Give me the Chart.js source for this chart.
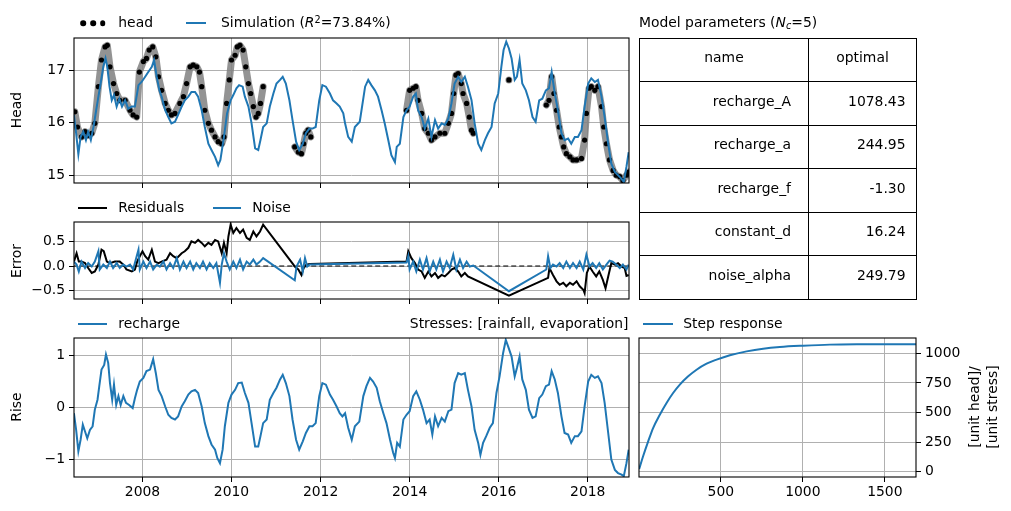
<!DOCTYPE html>
<html><head><meta charset="utf-8">
<script src="https://cdn.jsdelivr.net/npm/chart.js@4/dist/chart.umd.min.js"></script>
<style>
html,body{margin:0;padding:0;background:#fff;}
body{width:1011px;height:511px;position:relative;overflow:hidden;font-family:'DejaVu Sans',sans-serif;font-size:13.9px;color:#000;}
canvas{position:absolute;left:0;top:0;}
.t{position:absolute;white-space:nowrap;line-height:1;}
.vl{position:absolute;white-space:nowrap;line-height:1;transform:translate(-50%,-50%) rotate(-90deg);}
.dot{position:absolute;width:5.6px;height:5.6px;border-radius:50%;background:#000;transform:translate(-50%,-50%);}
.ln{position:absolute;height:2px;}
.cell{position:absolute;box-sizing:border-box;border:1px solid #000;display:flex;align-items:center;line-height:1;padding-bottom:4px;}
sup{font-size:70%;vertical-align:0.45em;line-height:0;}
sub{font-size:70%;vertical-align:-0.2em;line-height:0;}
</style>
</head><body>
<script>
// ---------------- DATA ----------------
const yearTicks = [2008, 2010, 2012, 2014, 2016, 2018];
const headTicks = [15, 16, 17];
const errorTicks = [-0.5, 0, 0.5];
const riseTicks = [-1, 0, 1];
const stepXTicks = [500, 1000, 1500];
const stepYTicks = [0, 250, 500, 750, 1000];

const headObs = [
[2006.48,16.21],[2006.54,15.92],[2006.63,15.73],[2006.71,15.83],[2006.78,15.76],[2006.86,15.80],[2006.93,15.99],
[2007.01,16.69],[2007.08,17.20],[2007.16,17.45],[2007.21,17.48],[2007.27,17.07],[2007.35,16.75],[2007.42,16.56],
[2007.49,16.43],[2007.61,16.43],[2007.72,16.24],[2007.79,16.15],[2007.87,16.11],[2007.93,16.97],[2008.02,17.17],
[2008.09,17.23],[2008.15,17.39],[2008.23,17.45],[2008.30,17.26],[2008.36,16.88],[2008.43,16.62],[2008.51,16.37],
[2008.58,16.24],[2008.65,16.15],[2008.73,16.18],[2008.84,16.37],[2008.92,16.50],[2008.99,16.75],[2009.07,17.07],
[2009.14,17.10],[2009.22,17.07],[2009.28,16.97],[2009.33,16.69],[2009.40,16.24],[2009.48,15.99],[2009.55,15.86],
[2009.63,15.73],[2009.70,15.64],[2009.78,15.60],[2009.83,15.73],[2009.89,16.37],[2009.95,16.82],[2010.00,17.20],
[2010.08,17.29],[2010.13,17.45],[2010.19,17.48],[2010.26,17.39],[2010.32,17.07],[2010.38,16.75],[2010.43,16.56],
[2010.49,16.31],[2010.55,16.11],[2010.60,16.18],[2010.65,16.37],[2010.71,16.69],[2010.75,null],
[2011.42,15.54],[2011.50,15.44],[2011.57,15.41],[2011.62,15.60],[2011.67,15.80],[2011.72,15.86],[2011.78,15.73],[2011.80,null],
[2013.93,16.24],[2014.00,16.62],[2014.08,16.66],[2014.14,16.69],[2014.19,16.43],[2014.27,16.18],[2014.34,15.89],
[2014.42,15.80],[2014.49,15.67],[2014.57,15.73],[2014.68,15.80],[2014.79,15.80],[2014.87,15.99],[2014.94,16.18],
[2014.99,16.56],[2015.04,16.91],[2015.09,16.94],[2015.16,16.75],[2015.20,16.56],[2015.28,16.37],[2015.34,16.11],
[2015.39,15.86],[2015.43,15.80],[2015.45,null],
[2016.23,16.82],[2016.25,null],
[2017.07,16.34],[2017.13,16.43],[2017.19,16.88],[2017.24,16.56],[2017.30,16.24],[2017.36,15.92],[2017.41,15.73],
[2017.46,15.54],[2017.52,15.41],[2017.60,15.35],[2017.67,15.29],[2017.75,15.29],[2017.86,15.32],[2017.93,15.67],
[2017.97,16.18],[2018.03,16.66],[2018.08,16.69],[2018.16,16.62],[2018.23,16.69],[2018.31,16.31],[2018.36,15.92],
[2018.42,15.60],[2018.49,15.29],[2018.57,15.09],[2018.64,15.00],[2018.72,14.97],[2018.79,14.90],[2018.87,15.00],[2018.92,15.06]
];

const simulation = [
[2006.46,16.15],[2006.51,15.80],[2006.56,15.40],[2006.61,15.73],[2006.67,15.83],[2006.73,15.67],[2006.78,15.83],
[2006.84,15.67],[2006.90,15.92],[2006.96,16.24],[2007.01,16.50],[2007.06,16.75],[2007.12,17.07],[2007.17,17.23],
[2007.21,17.07],[2007.26,16.69],[2007.31,16.43],[2007.36,16.53],[2007.42,16.31],[2007.48,16.46],[2007.54,16.31],
[2007.61,16.43],[2007.68,16.27],[2007.76,16.31],[2007.83,16.31],[2007.91,16.72],[2007.98,16.78],[2008.06,16.88],
[2008.13,16.97],[2008.21,17.07],[2008.26,17.20],[2008.32,16.88],[2008.38,16.62],[2008.43,16.50],[2008.51,16.24],
[2008.58,16.11],[2008.65,15.99],[2008.73,16.02],[2008.80,16.15],[2008.88,16.31],[2008.95,16.43],[2009.03,16.50],
[2009.10,16.59],[2009.18,16.59],[2009.25,16.50],[2009.33,16.24],[2009.40,15.92],[2009.48,15.60],[2009.55,15.48],
[2009.63,15.35],[2009.70,15.19],[2009.75,15.29],[2009.83,15.73],[2009.90,16.18],[2009.98,16.43],[2010.04,16.53],
[2010.11,16.66],[2010.17,16.72],[2010.25,16.69],[2010.30,16.50],[2010.38,16.31],[2010.45,15.99],[2010.53,15.51],
[2010.60,15.48],[2010.65,15.67],[2010.71,15.92],[2010.79,15.99],[2010.86,16.31],[2010.94,16.56],[2011.01,16.75],
[2011.09,16.82],[2011.15,16.88],[2011.22,16.75],[2011.30,16.43],[2011.37,16.05],[2011.45,15.64],[2011.52,15.48],
[2011.60,15.60],[2011.67,15.80],[2011.75,15.89],[2011.82,15.89],[2011.89,15.92],[2011.97,16.43],[2012.04,16.72],
[2012.12,16.69],[2012.21,16.56],[2012.28,16.43],[2012.36,16.37],[2012.43,16.31],[2012.51,16.18],[2012.55,15.99],
[2012.62,15.73],[2012.70,15.64],[2012.77,15.92],[2012.88,16.02],[2013.00,16.69],[2013.07,16.82],[2013.14,16.72],
[2013.22,16.62],[2013.29,16.50],[2013.37,16.24],[2013.44,15.99],[2013.52,15.67],[2013.59,15.38],[2013.67,15.25],
[2013.71,15.54],[2013.78,15.60],[2013.86,16.11],[2013.93,16.24],[2014.00,16.31],[2014.08,16.50],[2014.14,16.56],
[2014.19,16.24],[2014.27,16.11],[2014.34,15.89],[2014.42,16.08],[2014.49,15.73],[2014.57,16.05],[2014.64,15.89],
[2014.72,15.99],[2014.79,15.96],[2014.87,16.08],[2014.94,16.37],[2015.01,16.75],[2015.09,16.88],[2015.16,16.78],
[2015.24,16.88],[2015.31,16.69],[2015.39,16.43],[2015.46,15.99],[2015.54,15.60],[2015.61,15.48],[2015.69,15.67],
[2015.76,15.80],[2015.84,15.92],[2015.91,16.37],[2015.99,16.56],[2016.06,17.07],[2016.11,17.39],[2016.17,17.55],
[2016.23,17.42],[2016.29,17.23],[2016.36,16.82],[2016.41,16.88],[2016.47,17.20],[2016.53,16.75],[2016.61,16.62],
[2016.68,16.43],[2016.76,16.11],[2016.83,16.02],[2016.91,16.43],[2016.98,16.46],[2017.06,16.62],[2017.13,16.66],
[2017.19,16.97],[2017.26,16.56],[2017.33,16.24],[2017.41,15.80],[2017.48,15.67],[2017.56,15.70],[2017.63,15.60],
[2017.71,15.73],[2017.78,15.73],[2017.86,15.86],[2017.93,16.31],[2018.01,16.75],[2018.08,16.85],[2018.16,16.78],
[2018.23,16.82],[2018.31,16.50],[2018.38,16.11],[2018.46,15.60],[2018.53,15.22],[2018.61,15.06],[2018.68,15.00],
[2018.76,14.93],[2018.81,14.87],[2018.87,15.16],[2018.92,15.44]
];

const residuals = [
[2006.46,0.09],[2006.52,0.26],[2006.57,0.09],[2006.63,0.09],[2006.71,0.06],[2006.78,-0.04],[2006.86,-0.14],
[2006.93,-0.11],[2007.01,0.03],[2007.08,0.33],[2007.13,0.30],[2007.20,0.09],[2007.27,0.06],[2007.38,0.09],
[2007.49,0.09],[2007.57,0.03],[2007.64,-0.07],[2007.76,-0.11],[2007.83,-0.07],[2007.88,0.09],[2007.94,0.20],
[2008.00,0.30],[2008.06,0.20],[2008.13,0.13],[2008.21,0.33],[2008.28,0.09],[2008.36,0.06],[2008.43,0.09],
[2008.54,0.13],[2008.62,0.26],[2008.69,0.20],[2008.77,0.16],[2008.88,0.26],[2008.95,0.30],[2009.03,0.37],
[2009.10,0.50],[2009.18,0.47],[2009.25,0.53],[2009.33,0.47],[2009.40,0.40],[2009.48,0.47],[2009.55,0.43],
[2009.63,0.53],[2009.70,0.50],[2009.78,0.26],[2009.83,0.47],[2009.89,0.26],[2009.93,0.60],[2009.98,0.84],
[2010.04,0.67],[2010.11,0.77],[2010.19,0.67],[2010.26,0.74],[2010.34,0.57],[2010.41,0.53],[2010.49,0.70],
[2010.56,0.60],[2010.64,0.70],[2010.71,0.84],[2011.39,0.03],[2011.42,-0.01],[2011.50,-0.07],[2011.57,-0.18],
[2011.62,-0.04],[2011.68,0.03],[2011.76,0.04],[2013.93,0.09],[2013.97,0.30],[2014.04,0.16],[2014.12,0.06],
[2014.19,-0.07],[2014.27,-0.11],[2014.34,-0.24],[2014.42,-0.11],[2014.49,-0.21],[2014.57,-0.14],[2014.64,-0.24],
[2014.72,-0.18],[2014.79,-0.21],[2014.87,-0.14],[2014.94,-0.07],[2015.01,-0.04],[2015.09,-0.11],[2015.16,-0.21],
[2015.24,-0.14],[2015.31,-0.21],[2016.23,-0.60],[2017.11,-0.24],[2017.14,-0.04],[2017.22,-0.18],[2017.30,-0.31],
[2017.37,-0.38],[2017.45,-0.34],[2017.52,-0.41],[2017.60,-0.34],[2017.67,-0.38],[2017.75,-0.31],[2017.82,-0.41],
[2017.90,-0.48],[2017.93,-0.55],[2017.98,-0.14],[2018.04,-0.01],[2018.11,-0.11],[2018.19,-0.21],[2018.26,-0.11],
[2018.34,-0.28],[2018.40,-0.45],[2018.46,-0.21],[2018.53,0.06],[2018.61,0.03],[2018.68,0.06],[2018.76,-0.01],
[2018.83,-0.04],[2018.87,-0.20],[2018.92,-0.18]
];

const noise = [
[2006.46,0.09],[2006.52,0.03],[2006.57,-0.11],[2006.63,0.09],[2006.71,-0.04],[2006.78,0.06],[2006.86,-0.01],
[2006.93,0.09],[2007.01,0.30],[2007.04,-0.07],[2007.12,0.03],[2007.20,-0.04],[2007.27,0.09],[2007.34,-0.04],
[2007.42,0.06],[2007.49,-0.04],[2007.57,0.03],[2007.64,-0.01],[2007.72,0.03],[2007.79,-0.07],[2007.87,0.20],
[2007.91,0.33],[2007.94,-0.07],[2008.02,0.09],[2008.09,-0.04],[2008.17,0.09],[2008.24,-0.07],[2008.32,0.03],
[2008.39,-0.01],[2008.47,0.09],[2008.54,-0.07],[2008.62,0.06],[2008.69,-0.04],[2008.77,0.16],[2008.84,-0.07],
[2008.92,0.09],[2008.99,-0.04],[2009.07,0.09],[2009.14,-0.07],[2009.21,0.06],[2009.29,-0.04],[2009.36,0.09],
[2009.44,-0.07],[2009.51,0.06],[2009.59,-0.04],[2009.66,0.06],[2009.74,-0.34],[2009.78,0.03],[2009.83,0.26],
[2009.89,0.09],[2009.96,-0.07],[2010.04,0.09],[2010.11,-0.04],[2010.19,0.13],[2010.26,-0.07],[2010.34,0.09],
[2010.41,0.03],[2010.49,0.13],[2010.56,0.03],[2010.64,0.09],[2010.71,0.16],[2011.42,-0.29],[2011.46,-0.01],
[2011.54,0.13],[2011.60,-0.11],[2011.65,0.16],[2011.70,-0.01],[2011.76,0.03],[2013.93,0.07],[2013.97,0.20],
[2014.00,-0.07],[2014.08,0.09],[2014.15,-0.11],[2014.23,0.13],[2014.30,-0.07],[2014.38,0.16],[2014.45,-0.11],
[2014.53,0.09],[2014.60,-0.07],[2014.68,0.13],[2014.75,-0.11],[2014.83,0.09],[2014.90,-0.04],[2014.98,0.23],
[2015.05,-0.07],[2015.13,0.13],[2015.20,-0.04],[2015.28,0.09],[2015.35,-0.01],[2015.43,0.01],[2016.23,-0.51],
[2017.07,-0.07],[2017.11,0.20],[2017.16,-0.04],[2017.22,0.03],[2017.30,-0.01],[2017.37,0.06],[2017.45,-0.04],
[2017.52,0.09],[2017.60,-0.04],[2017.67,0.06],[2017.75,-0.04],[2017.82,0.09],[2017.90,-0.07],[2017.97,0.23],
[2018.04,-0.01],[2018.11,0.06],[2018.19,-0.04],[2018.26,0.06],[2018.34,-0.07],[2018.42,0.03],[2018.49,0.11],
[2018.56,0.09],[2018.64,0.03],[2018.72,-0.04],[2018.79,0.03],[2018.87,-0.07],[2018.92,0.03]
];

const zeroLine = [[2006.40,0],[2019.00,0]];

const recharge = [
[2006.46,-0.12],[2006.51,-0.44],[2006.56,-0.85],[2006.61,-0.63],[2006.66,-0.34],[2006.71,-0.47],[2006.76,-0.60],
[2006.82,-0.44],[2006.88,-0.37],[2006.93,-0.05],[2006.99,0.14],[2007.03,0.40],[2007.08,0.72],[2007.14,0.81],
[2007.18,1.01],[2007.23,0.85],[2007.27,0.46],[2007.32,0.14],[2007.36,0.43],[2007.41,0.04],[2007.46,0.21],
[2007.51,0.04],[2007.57,0.21],[2007.63,0.08],[2007.70,0.04],[2007.78,-0.02],[2007.83,0.17],[2007.88,0.33],
[2007.94,0.49],[2008.02,0.56],[2008.09,0.69],[2008.17,0.72],[2008.24,0.92],[2008.30,0.65],[2008.36,0.33],
[2008.43,0.21],[2008.51,0.01],[2008.58,-0.15],[2008.65,-0.21],[2008.73,-0.24],[2008.80,-0.18],[2008.88,0.01],
[2008.95,0.11],[2009.03,0.24],[2009.10,0.30],[2009.18,0.33],[2009.25,0.27],[2009.33,0.01],[2009.40,-0.31],
[2009.48,-0.56],[2009.55,-0.72],[2009.63,-0.82],[2009.68,-0.98],[2009.74,-1.08],[2009.80,-0.82],[2009.85,-0.37],
[2009.93,0.08],[2010.00,0.24],[2010.08,0.33],[2010.15,0.46],[2010.23,0.47],[2010.30,0.27],[2010.38,0.08],
[2010.45,-0.31],[2010.53,-0.76],[2010.60,-0.76],[2010.65,-0.56],[2010.71,-0.31],[2010.79,-0.24],[2010.86,0.14],
[2010.94,0.27],[2011.01,0.37],[2011.09,0.53],[2011.15,0.62],[2011.22,0.46],[2011.30,0.21],[2011.37,-0.24],
[2011.45,-0.63],[2011.52,-0.82],[2011.60,-0.66],[2011.67,-0.50],[2011.75,-0.37],[2011.82,-0.37],[2011.89,-0.31],
[2011.97,0.21],[2012.04,0.46],[2012.12,0.43],[2012.21,0.24],[2012.28,0.14],[2012.36,0.01],[2012.43,-0.12],
[2012.49,-0.18],[2012.55,-0.12],[2012.62,-0.40],[2012.70,-0.63],[2012.77,-0.37],[2012.87,-0.28],[2012.96,0.21],
[2013.03,0.40],[2013.11,0.56],[2013.18,0.49],[2013.26,0.37],[2013.33,0.11],[2013.41,-0.12],[2013.48,-0.31],
[2013.56,-0.63],[2013.63,-0.88],[2013.67,-0.98],[2013.72,-0.69],[2013.78,-0.76],[2013.86,-0.24],[2013.93,-0.15],
[2014.00,-0.08],[2014.08,0.21],[2014.15,0.30],[2014.23,0.14],[2014.30,-0.05],[2014.38,-0.31],[2014.45,-0.24],
[2014.51,-0.53],[2014.57,-0.18],[2014.64,-0.37],[2014.72,-0.21],[2014.79,-0.28],[2014.87,-0.08],[2014.94,-0.05],
[2015.01,0.46],[2015.09,0.65],[2015.16,0.62],[2015.24,0.65],[2015.31,0.33],[2015.39,0.01],[2015.46,-0.44],
[2015.54,-0.69],[2015.59,-0.92],[2015.65,-0.69],[2015.72,-0.56],[2015.80,-0.40],[2015.87,-0.31],[2015.95,0.27],
[2016.02,0.59],[2016.10,1.04],[2016.16,1.29],[2016.21,1.17],[2016.29,0.97],[2016.36,0.59],[2016.41,0.75],
[2016.47,0.97],[2016.53,0.53],[2016.61,0.33],[2016.68,-0.05],[2016.76,-0.21],[2016.83,-0.18],[2016.91,0.17],
[2016.98,0.24],[2017.06,0.40],[2017.13,0.43],[2017.19,0.69],[2017.26,0.53],[2017.33,0.27],[2017.41,-0.18],
[2017.48,-0.50],[2017.56,-0.53],[2017.63,-0.69],[2017.71,-0.56],[2017.78,-0.56],[2017.86,-0.47],[2017.93,0.01],
[2018.01,0.49],[2018.08,0.62],[2018.16,0.56],[2018.23,0.59],[2018.31,0.46],[2018.38,0.08],[2018.46,-0.50],
[2018.53,-1.01],[2018.61,-1.21],[2018.68,-1.27],[2018.76,-1.30],[2018.81,-1.33],[2018.87,-1.08],[2018.92,-0.82]
];

const stepResponse = [
[2,23],[26,130],[57,256],[87,369],[128,482],[169,581],[209,665],[250,736],[301,806],[352,862],
[413,913],[474,947],[555,984],[657,1017],[758,1040],[860,1054],[1002,1065],[1165,1074],[1368,1077],[1690,1078]
];

const paramNames = ['recharge_A', 'recharge_a', 'recharge_f', 'constant_d', 'noise_alpha'];
const paramValues = ['1078.43', '244.95', '-1.30', '16.24', '249.79'];

// ---------------- RENDERING ----------------
const W = 1011, H = 511, YW = 45, XH = 30;
const BLUE = '#1f77b4';
Chart.defaults.font.family = "'DejaVu Sans'";
Chart.defaults.font.size = 13.9;
Chart.defaults.color = '#000';

const frame = {
  id: 'frame',
  afterDatasetsDraw(chart) {
    const a = chart.chartArea, c = chart.ctx;
    c.save(); c.strokeStyle = '#000'; c.lineWidth = 1.1;
    c.strokeRect(a.left, a.top, a.right - a.left, a.bottom - a.top);
    c.restore();
  }
};

const pts = arr => arr.map(p => ({ x: p[0], y: p[1] }));
const minus = s => s.replace('-', '\u2212');

function axis(pos, min, max, ticks, showLabels, fmt) {
  const vertical = pos === 'left' || pos === 'right';
  return {
    type: 'linear', position: pos, min, max,
    afterBuildTicks: s => { s.ticks = ticks.map(v => ({ value: v })); },
    afterFit: s => { if (vertical) s.width = YW; else s.height = XH; },
    grid: { color: '#b0b0b0', lineWidth: 1, drawTicks: true, tickLength: 5, tickColor: '#000', tickWidth: 1 },
    border: { display: false },
    ticks: { display: showLabels, autoSkip: false, maxRotation: 0, minRotation: 0, padding: vertical ? 4 : 2, callback: v => fmt(v) }
  };
}

function makeChart(area, datasets, xAxis, yAxis, yRight) {
  const cv = document.createElement('canvas');
  cv.width = W; cv.height = H; cv.style.width = W + 'px'; cv.style.height = H + 'px';
  document.body.appendChild(cv);
  const padding = yRight
    ? { left: area.l, right: W - area.r - YW, top: area.t, bottom: H - area.b - XH }
    : { left: area.l - YW, right: W - area.r, top: area.t, bottom: H - area.b - XH };
  return new Chart(cv, {
    type: 'line',
    data: { datasets },
    options: {
      responsive: false, animation: false, events: [],
      layout: { padding },
      plugins: { legend: { display: false }, tooltip: { enabled: false } },
      scales: { x: xAxis, y: yAxis }
    },
    plugins: [frame]
  });
}

const yearMin = 2006.462, yearMax = 2018.927;
const yearFmt = v => String(v);

// Head panel
makeChart({ l: 74, t: 38, r: 629, b: 183 }, [
  { data: pts(simulation), borderColor: BLUE, borderWidth: 2, pointRadius: 0, tension: 0, order: 0 },
  { data: pts(headObs), showLine: false, pointRadius: 2.6, pointBackgroundColor: '#000', pointBorderWidth: 0, order: 1 },
  { data: pts(headObs), borderColor: 'rgba(128,128,128,0.85)', borderWidth: 7, borderCapStyle: 'round', borderJoinStyle: 'round', pointRadius: 0, spanGaps: false, order: 2 }
], axis('bottom', yearMin, yearMax, yearTicks, false, yearFmt),
   axis('left', 14.85, 17.62, headTicks, true, v => String(v)));

// Error panel
makeChart({ l: 74, t: 222, r: 629, b: 299 }, [
  { data: pts(noise), borderColor: BLUE, borderWidth: 2, pointRadius: 0, order: 0 },
  { data: pts(residuals), borderColor: '#000', borderWidth: 2, pointRadius: 0, order: 1 },
  { data: pts(zeroLine), borderColor: '#000', borderWidth: 1.1, borderDash: [5, 3], pointRadius: 0, order: 2 }
], axis('bottom', yearMin, yearMax, yearTicks, false, yearFmt),
   axis('left', -0.668, 0.893, errorTicks, true, v => minus(v.toFixed(1))));

// Rise panel
makeChart({ l: 74, t: 338, r: 629, b: 477 }, [
  { data: pts(recharge), borderColor: BLUE, borderWidth: 2, pointRadius: 0 }
], axis('bottom', yearMin, yearMax, yearTicks, true, yearFmt),
   axis('left', -1.346, 1.327, riseTicks, true, v => minus(String(v))));

// Step response panel
makeChart({ l: 639, t: 338, r: 916, b: 477 }, [
  { data: pts(stepResponse), borderColor: BLUE, borderWidth: 2, pointRadius: 0, cubicInterpolationMode: 'monotone' }
], axis('bottom', 1, 1690, stepXTicks, true, v => String(v)),
   axis('right', -45, 1130, stepYTicks, true, v => String(v)), true);

// Parameter table
(function () {
  const xs = [639, 808, 916];
  const y0 = 37.7, rh = 43.55;
  const rows = [['name', 'optimal', true]].concat(paramNames.map((n, i) => [n, paramValues[i], false]));
  rows.forEach((r, i) => {
    for (let j = 0; j < 2; j++) {
      const d = document.createElement('div');
      d.className = 'cell';
      d.style.left = xs[j] + 'px';
      d.style.top = (y0 + i * rh) + 'px';
      d.style.width = (xs[j + 1] - xs[j] + 1) + 'px';
      d.style.height = (rh + 1) + 'px';
      d.style.justifyContent = r[2] ? 'center' : 'flex-end';
      if (!r[2]) d.style.paddingRight = (j === 0 ? 17 : 10.5) + 'px';
      d.textContent = r[j];
      document.body.appendChild(d);
    }
  });
})();
</script>

<!-- legends and labels -->
<span class="dot" style="left:83.3px;top:23.3px"></span>
<span class="dot" style="left:93px;top:23.3px"></span>
<span class="dot" style="left:102.7px;top:23.3px"></span>
<div class="t" style="left:118.3px;top:16.2px">head</div>
<div class="ln" style="left:185.7px;top:22.3px;width:20px;background:#1f77b4"></div>
<div class="t" style="left:221px;top:16.2px">Simulation (<i>R</i><sup>2</sup>=73.84%)</div>
<div class="t" style="left:639px;top:16.2px">Model parameters (<i>N<sub>c</sub></i>=5)</div>

<div class="ln" style="left:78px;top:206.7px;width:29px;background:#000"></div>
<div class="t" style="left:118.3px;top:200.9px">Residuals</div>
<div class="ln" style="left:212.7px;top:206.7px;width:28.5px;background:#1f77b4"></div>
<div class="t" style="left:252.3px;top:200.9px">Noise</div>

<div class="ln" style="left:78px;top:323px;width:29px;background:#1f77b4"></div>
<div class="t" style="left:118.3px;top:316.5px">recharge</div>
<div class="t" style="right:382.5px;top:317px">Stresses: [rainfall, evaporation]</div>
<div class="ln" style="left:643.3px;top:323px;width:29.4px;background:#1f77b4"></div>
<div class="t" style="left:683.3px;top:316.5px">Step response</div>

<div class="vl" style="left:16.7px;top:110px">Head</div>
<div class="vl" style="left:16.7px;top:261px">Error</div>
<div class="vl" style="left:16.7px;top:407px">Rise</div>
<div class="vl" style="left:975px;top:406.7px">[unit head]/</div>
<div class="vl" style="left:992.5px;top:407px">[unit stress]</div>
</body></html>
